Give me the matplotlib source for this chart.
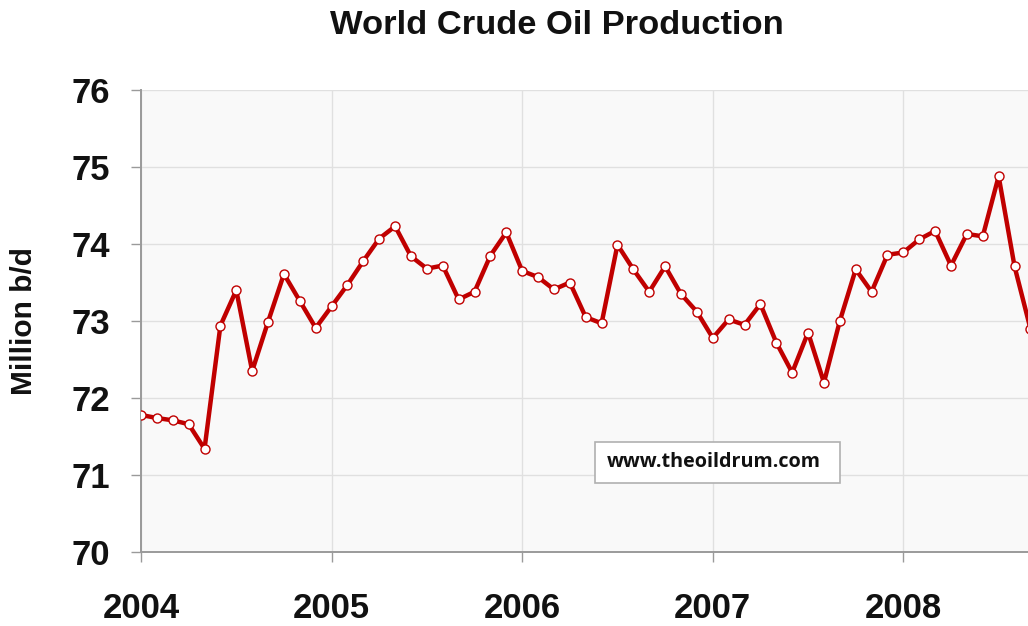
import matplotlib
matplotlib.use("Agg")
import matplotlib.pyplot as plt
from matplotlib.patches import Rectangle
import numpy as np

# Monthly world crude oil production, million b/d, starting Jan 2004
start_year = 2004
values = [71.78, 71.74, 71.71, 71.66, 71.34, 72.94, 73.40, 72.35, 72.99, 73.61, 73.26, 72.91,
          73.19, 73.47, 73.78, 74.07, 74.23, 73.84, 73.68, 73.72, 73.28, 73.38, 73.85, 74.15,
          73.65, 73.57, 73.41, 73.50, 73.05, 72.97, 73.99, 73.67, 73.38, 73.71, 73.35, 73.12,
          72.78, 73.02, 72.95, 73.22, 72.72, 72.33, 72.85, 72.20, 73.00, 73.67, 73.38, 73.86,
          73.89, 74.06, 74.17, 73.72, 74.13, 74.10, 74.88, 73.71, 72.90]
x_ticks = [2004, 2005, 2006, 2007, 2008]
y_ticks = [70, 71, 72, 73, 74, 75, 76]
title = "World Crude Oil Production"
ylabel = "Million b/d"
watermark = "www.theoildrum.com"

x = start_year + np.arange(len(values)) / 12.0

W, H = 1028, 626
fig = plt.figure(figsize=(W / 100, H / 100), dpi=100)
fig.patch.set_facecolor("white")
ax = fig.add_axes([141 / W, 74 / H, 1 - 141 / W, (552 - 90) / H])
ax.set_facecolor("#f9f9f9")

ax.plot(x, values, color="#c00000", lw=3.2, marker="o", ms=6.5,
        mfc="white", mec="#c00000", mew=1.0, zorder=3, solid_joinstyle="round")

ax.set_xlim(2004, 2008.654)
ax.set_ylim(70, 76)
ax.set_xticks(x_ticks)
ax.set_yticks(y_ticks)
ax.set_xticklabels([str(t) for t in x_ticks])
ax.grid(True, color="#e0e0e0", lw=1.0, zorder=0)
ax.set_axisbelow(True)

for s in ["top", "right"]:
    ax.spines[s].set_visible(False)
for s in ["left", "bottom"]:
    ax.spines[s].set_color("#9a9a9a")
    ax.spines[s].set_linewidth(1.4)

fontfam = ["Liberation Sans", "DejaVu Sans"]
ax.tick_params(axis="both", colors="#9a9a9a", length=7.5, width=1.0, direction="out")
ax.tick_params(axis="x", pad=21)
ax.tick_params(axis="y", pad=15)
for lab in ax.get_xticklabels() + ax.get_yticklabels():
    lab.set_fontfamily(fontfam)
    lab.set_fontweight("bold")
    lab.set_fontsize(25)
    lab.set_color("#111111")

fig.text(557 / W, 1 - 26 / H, title, ha="center", va="center",
         fontsize=24.8, fontweight="bold", family=fontfam, color="#111111")
fig.text(24 / W, 1 - 321 / H, ylabel, ha="center", va="center", rotation=90,
         fontsize=21.5, fontweight="bold", family=fontfam, color="#111111")

# watermark box
fig.patches.append(Rectangle((595 / W, 1 - 483 / H), 245 / W, 41 / H,
                             transform=fig.transFigure, facecolor="white",
                             edgecolor="#b0b0b0", lw=1.2, zorder=5))
fig.text(607 / W, 1 - 462 / H, watermark, ha="left", va="center",
         fontsize=14.2, fontweight="bold", family=["Open Sans", "DejaVu Sans"],
         color="#111111", zorder=6)

fig.savefig("out.png", dpi=100)
